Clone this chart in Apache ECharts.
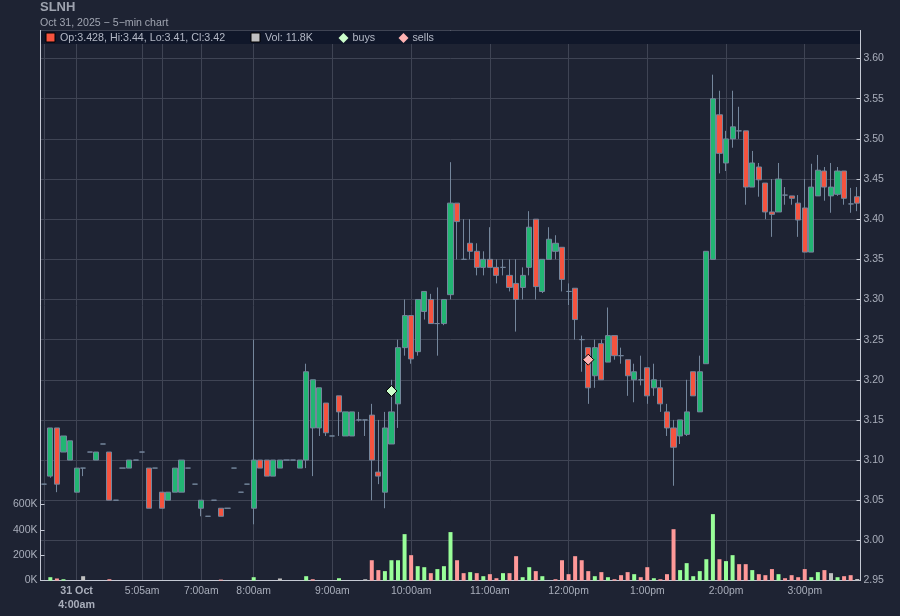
<!DOCTYPE html>
<html>
<head>
<meta charset="utf-8">
<title>SLNH</title>
<style>
  html, body { margin: 0; padding: 0; background: #1e2333; }
  #chart { width: 900px; height: 616px; }
</style>
<script src="https://cdn.jsdelivr.net/npm/echarts@6/dist/echarts.min.js"></script>
</head>
<body>
<div id="chart"></div>
<script>
// values, one entry per 5-min bar
const opens = [
  3.07,3.08,3.14,3.11,3.10,3.06,3.09,3.11,3.10,3.12,
  3.11,3.05,3.09,3.09,3.10,3.11,3.09,3.09,3.06,3.05,
  3.06,3.06,3.09,3.07,3.04,3.03,3.05,3.04,3.04,3.09,
  3.06,3.07,3.04,3.10,3.10,3.08,3.09,3.10,3.10,3.09,
  3.10,3.14,3.14,3.171,3.13,3.18,3.13,3.13,3.15,3.15,
  3.156,3.085,3.06,3.12,3.17,3.24,3.28,3.235,3.285,3.30,
  3.27,3.27,3.306,3.42,3.35,3.37,3.36,3.34,3.35,3.34,
  3.34,3.33,3.32,3.315,3.34,3.40,3.31,3.35,3.36,3.365,
  3.31,3.314,3.25,3.24,3.205,3.245,3.222,3.255,3.23,3.225,
  3.20,3.20,3.215,3.19,3.19,3.16,3.14,3.13,3.132,3.21,
  3.16,3.22,3.35,3.53,3.47,3.50,3.51,3.51,3.44,3.465,
  3.445,3.409,3.409,3.43,3.429,3.42,3.414,3.359,3.429,3.46,
  3.429,3.431,3.46,3.419,3.428
];
const closes = [
  3.07,3.14,3.07,3.13,3.124,3.09,3.09,3.11,3.11,3.12,
  3.05,3.05,3.09,3.10,3.10,3.11,3.04,3.09,3.04,3.06,
  3.09,3.10,3.09,3.07,3.05,3.03,3.05,3.03,3.04,3.09,
  3.06,3.07,3.10,3.09,3.08,3.10,3.10,3.10,3.10,3.10,
  3.21,3.20,3.19,3.134,3.13,3.16,3.16,3.16,3.15,3.15,
  3.10,3.08,3.14,3.16,3.24,3.28,3.226,3.30,3.31,3.27,
  3.27,3.30,3.42,3.397,3.35,3.36,3.34,3.35,3.34,3.33,
  3.34,3.315,3.30,3.33,3.39,3.316,3.35,3.375,3.37,3.325,
  3.31,3.275,3.25,3.19,3.24,3.20,3.255,3.23,3.23,3.205,
  3.21,3.20,3.18,3.20,3.17,3.14,3.116,3.15,3.16,3.18,
  3.21,3.36,3.55,3.482,3.50,3.515,3.51,3.44,3.47,3.449,
  3.409,3.406,3.45,3.43,3.426,3.399,3.359,3.44,3.461,3.44,
  3.44,3.46,3.426,3.419,3.42
];
const lows = [
  3.07,3.078,3.06,3.11,3.10,3.06,3.08,3.11,3.10,3.12,
  3.05,3.05,3.09,3.09,3.10,3.11,3.04,3.09,3.04,3.05,
  3.06,3.06,3.09,3.07,3.03,3.03,3.05,3.03,3.04,3.09,
  3.06,3.07,3.02,3.09,3.08,3.08,3.09,3.10,3.10,3.09,
  3.09,3.08,3.13,3.13,3.13,3.13,3.13,3.13,3.148,3.13,
  3.05,3.07,3.04,3.12,3.14,3.23,3.22,3.23,3.275,3.27,
  3.23,3.268,3.30,3.35,3.35,3.35,3.33,3.33,3.34,3.32,
  3.33,3.31,3.26,3.30,3.33,3.30,3.308,3.35,3.35,3.31,
  3.293,3.25,3.21,3.17,3.19,3.20,3.222,3.225,3.22,3.18,
  3.172,3.193,3.17,3.18,3.16,3.13,3.068,3.12,3.13,3.18,
  3.16,3.22,3.35,3.457,3.46,3.489,3.50,3.418,3.44,3.428,
  3.40,3.378,3.409,3.418,3.418,3.378,3.359,3.359,3.429,3.423,
  3.408,3.429,3.418,3.408,3.41
];
const highs = [
  3.07,3.14,3.14,3.13,3.124,3.09,3.09,3.11,3.11,3.12,
  3.11,3.05,3.09,3.10,3.10,3.11,3.09,3.09,3.06,3.06,
  3.09,3.10,3.09,3.07,3.05,3.03,3.05,3.04,3.04,3.09,
  3.06,3.07,3.25,3.10,3.10,3.10,3.10,3.10,3.10,3.10,
  3.22,3.20,3.19,3.171,3.13,3.18,3.16,3.16,3.16,3.15,
  3.17,3.15,3.16,3.20,3.25,3.30,3.28,3.30,3.31,3.307,
  3.315,3.30,3.471,3.42,3.40,3.40,3.37,3.36,3.39,3.35,
  3.35,3.35,3.35,3.34,3.41,3.40,3.35,3.39,3.38,3.365,
  3.32,3.314,3.255,3.24,3.25,3.25,3.29,3.255,3.24,3.225,
  3.22,3.23,3.215,3.22,3.20,3.17,3.15,3.15,3.20,3.21,
  3.23,3.36,3.58,3.56,3.51,3.56,3.54,3.51,3.485,3.47,
  3.445,3.45,3.47,3.44,3.429,3.43,3.45,3.469,3.48,3.465,
  3.47,3.465,3.46,3.439,3.44
];
// volume in thousands
const volumes = [
  0,26,16,10,0,0,34,0,0,0,
  10,0,0,0,0,0,0,0,0,0,
  0,0,0,0,0,0,0,7,0,0,
  0,0,26,0,0,0,16,0,0,0,
  34,10,0,0,0,18,0,0,0,10,
  160,82,74,160,160,366,200,113,105,58,
  90,113,382,160,58,66,58,34,50,18,
  58,58,192,26,105,74,34,0,10,160,
  50,192,160,74,34,66,26,10,42,66,
  50,26,105,18,10,50,405,82,137,34,
  74,168,524,168,153,200,129,129,82,50,
  42,90,50,18,42,26,90,26,66,82,
  58,26,34,42,11.8
];
// 1 buy side, -1 sell side, 0 neutral
const volumeSides = [
  0,1,-1,1,0,0,0,0,0,0,
  -1,0,0,0,0,0,0,0,0,0,
  0,0,0,0,0,0,0,-1,0,0,
  0,0,1,0,0,0,0,0,0,0,
  1,-1,0,0,0,1,0,0,0,0,
  -1,-1,1,1,1,1,-1,1,1,-1,
  1,1,1,-1,-1,1,-1,1,-1,-1,
  1,-1,-1,1,1,-1,1,0,-1,-1,
  -1,-1,-1,-1,1,-1,1,-1,-1,-1,
  1,-1,-1,1,-1,-1,-1,1,1,1,
  1,1,1,-1,1,1,-1,-1,1,-1,
  -1,-1,1,-1,-1,-1,-1,1,1,-1,
  0,1,-1,-1,0
];
const tickBars = [5,15,24,32,44,56,68,80,92,104,116];
const tickLabels = ['4:00am','5:05am','7:00am','8:00am','9:00am','10:00am','11:00am','12:00pm','1:00pm','2:00pm','3:00pm'];
const unlabelledGridBars = [0,18];
const volumeTicks = [0,200000,400000,600000];
const buys = [[53,3.186]];
const sells = [[83,3.225]];

const COL_BG = '#1e2333', COL_GRID = '#3f4454', COL_AXIS = '#c5c9d4', COL_TEXT = '#a9aebb';
const COL_UP = '#22b573', COL_DOWN = '#f5533f', COL_EDGE = '#74869c';
const VOL_COLORS = { '1': '#99ff99', '-1': '#ff9999', '0': '#c0c0c0' };
const FONT = '"Liberation Sans", Arial, sans-serif';

const categories = opens.map((_, i) => String(i));
const candles = opens.map((o, i) => [o, closes[i], lows[i], highs[i]]);
const volumeBars = volumes.map((v, i) => ({
  value: v * 1000,
  itemStyle: { color: VOL_COLORS[volumeSides[i]] }
}));

const lastBar = opens.length - 1;
const ohlcText = 'Op:' + opens[lastBar] + ', Hi:' + highs[lastBar] + ', Lo:' + lows[lastBar] + ', Cl:' + closes[lastBar];
const volText = 'Vol: ' + volumes[lastBar] + 'K';

function legendLabel(x, text) {
  return { type: 'text', left: x, top: 33, z: 60, style: { text: text, fill: '#b4b9c6', font: '10.7px ' + FONT } };
}
function legendSquare(x, color) {
  return { type: 'rect', z: 60, shape: { x: x, y: 33, width: 9, height: 9 }, style: { fill: color, stroke: '#000', lineWidth: 1 } };
}
function legendDiamond(x, color) {
  return { type: 'polygon', z: 60, shape: { points: [[x, 33], [x + 5, 38], [x, 43], [x - 5, 38]] }, style: { fill: color } };
}

const myChart = echarts.init(document.getElementById('chart'), null, { renderer: 'canvas' });

const option = {
  animation: false,
  backgroundColor: COL_BG,
  textStyle: { fontFamily: FONT },
  title: [
    { text: 'SLNH', left: 40, top: 1, padding: 0, textStyle: { color: '#9ea3af', fontSize: 13, fontWeight: 'bold', fontFamily: FONT } },
    { text: 'Oct 31, 2025 \u2212 5\u2212min chart', left: 40, top: 18, padding: 0, textStyle: { color: '#a0a5b1', fontSize: 10.6, fontWeight: 'normal', fontFamily: FONT } }
  ],
  grid: { left: 40.5, right: 39.5, top: 30.5, bottom: 35.5, show: true, backgroundColor: COL_BG, borderColor: COL_AXIS, borderWidth: 1 },
  xAxis: {
    type: 'category',
    data: categories,
    boundaryGap: true,
    axisLine: { lineStyle: { color: COL_AXIS } },
    axisTick: {
      alignWithLabel: true, length: 3,
      interval: (i) => tickBars.includes(i),
      lineStyle: { color: COL_AXIS }
    },
    axisLabel: {
      interval: (i) => tickBars.includes(i),
      hideOverlap: false,
      color: COL_TEXT,
      fontSize: 10.4,
      margin: 4,
      lineHeight: 14,
      formatter: (value, i) => {
        const label = tickLabels[tickBars.indexOf(Number(value))];
        return Number(value) === tickBars[0] ? '{b|31 Oct}\n{b|' + label + '}' : label;
      },
      rich: { b: { fontWeight: 'bold', fontSize: 10.7, color: COL_TEXT, lineHeight: 14 } }
    },
    splitLine: {
      show: true,
      alignWithLabel: true,
      interval: (i) => tickBars.includes(i) || unlabelledGridBars.includes(i),
      lineStyle: { color: COL_GRID, width: 1 }
    }
  },
  yAxis: [
    {
      type: 'value', position: 'right', min: 2.95, max: 3.635, interval: 0.05, scale: true,
      axisLine: { show: true, lineStyle: { color: COL_AXIS } },
      axisTick: { show: true, inside: true, length: 4, lineStyle: { color: COL_AXIS } },
      axisLabel: { color: COL_TEXT, fontSize: 10.5, margin: 3, padding: [2, 0, 0, 0], showMaxLabel: false, formatter: (v) => v.toFixed(2) },
      splitLine: { show: true, lineStyle: { color: COL_GRID, width: 1 } }
    },
    {
      type: 'value', position: 'left', min: 0, max: 4342000,
      axisLine: { show: true, lineStyle: { color: COL_AXIS } },
      axisTick: { show: true, inside: true, length: 4, customValues: volumeTicks, lineStyle: { color: COL_AXIS } },
      axisLabel: { color: COL_TEXT, fontSize: 10.5, margin: 3, padding: [2, 0, 0, 0], customValues: volumeTicks, formatter: (v) => (v / 1000) + 'K' },
      splitLine: { show: false }
    }
  ],
  series: [
    {
      name: 'volume', type: 'bar', yAxisIndex: 1, barWidth: 4,
      data: volumeBars, silent: true, z: 2
    },
    {
      name: 'price', type: 'candlestick', yAxisIndex: 0, barWidth: 5.6, data: candles, z: 3,
      itemStyle: {
        color: COL_UP, color0: COL_DOWN,
        borderColor: COL_EDGE, borderColor0: COL_EDGE, borderColorDoji: COL_EDGE, borderWidth: 1
      }
    },
    {
      name: 'buys', type: 'scatter', yAxisIndex: 0, symbol: 'diamond', symbolSize: 11, data: buys, z: 5,
      itemStyle: { color: '#ccffcc', borderColor: '#000', borderWidth: 1, opacity: 1 }
    },
    {
      name: 'sells', type: 'scatter', yAxisIndex: 0, symbol: 'diamond', symbolSize: 11, data: sells, z: 5,
      itemStyle: { color: '#ffb3b3', borderColor: '#000', borderWidth: 1, opacity: 1 }
    }
  ],
  graphic: [
    { type: 'rect', z: 50, shape: { x: 41, y: 31, width: 819, height: 13 }, style: { fill: '#10172a' } },
    legendSquare(46, COL_DOWN), legendLabel(60, ohlcText),
    legendSquare(251, '#c0c0c0'), legendLabel(265, volText),
    legendDiamond(343.5, '#ccffcc'), legendLabel(352.5, 'buys'),
    legendDiamond(403.5, '#ffb3b3'), legendLabel(412.5, 'sells')
  ]
};

myChart.setOption(option);
</script>
</body>
</html>
